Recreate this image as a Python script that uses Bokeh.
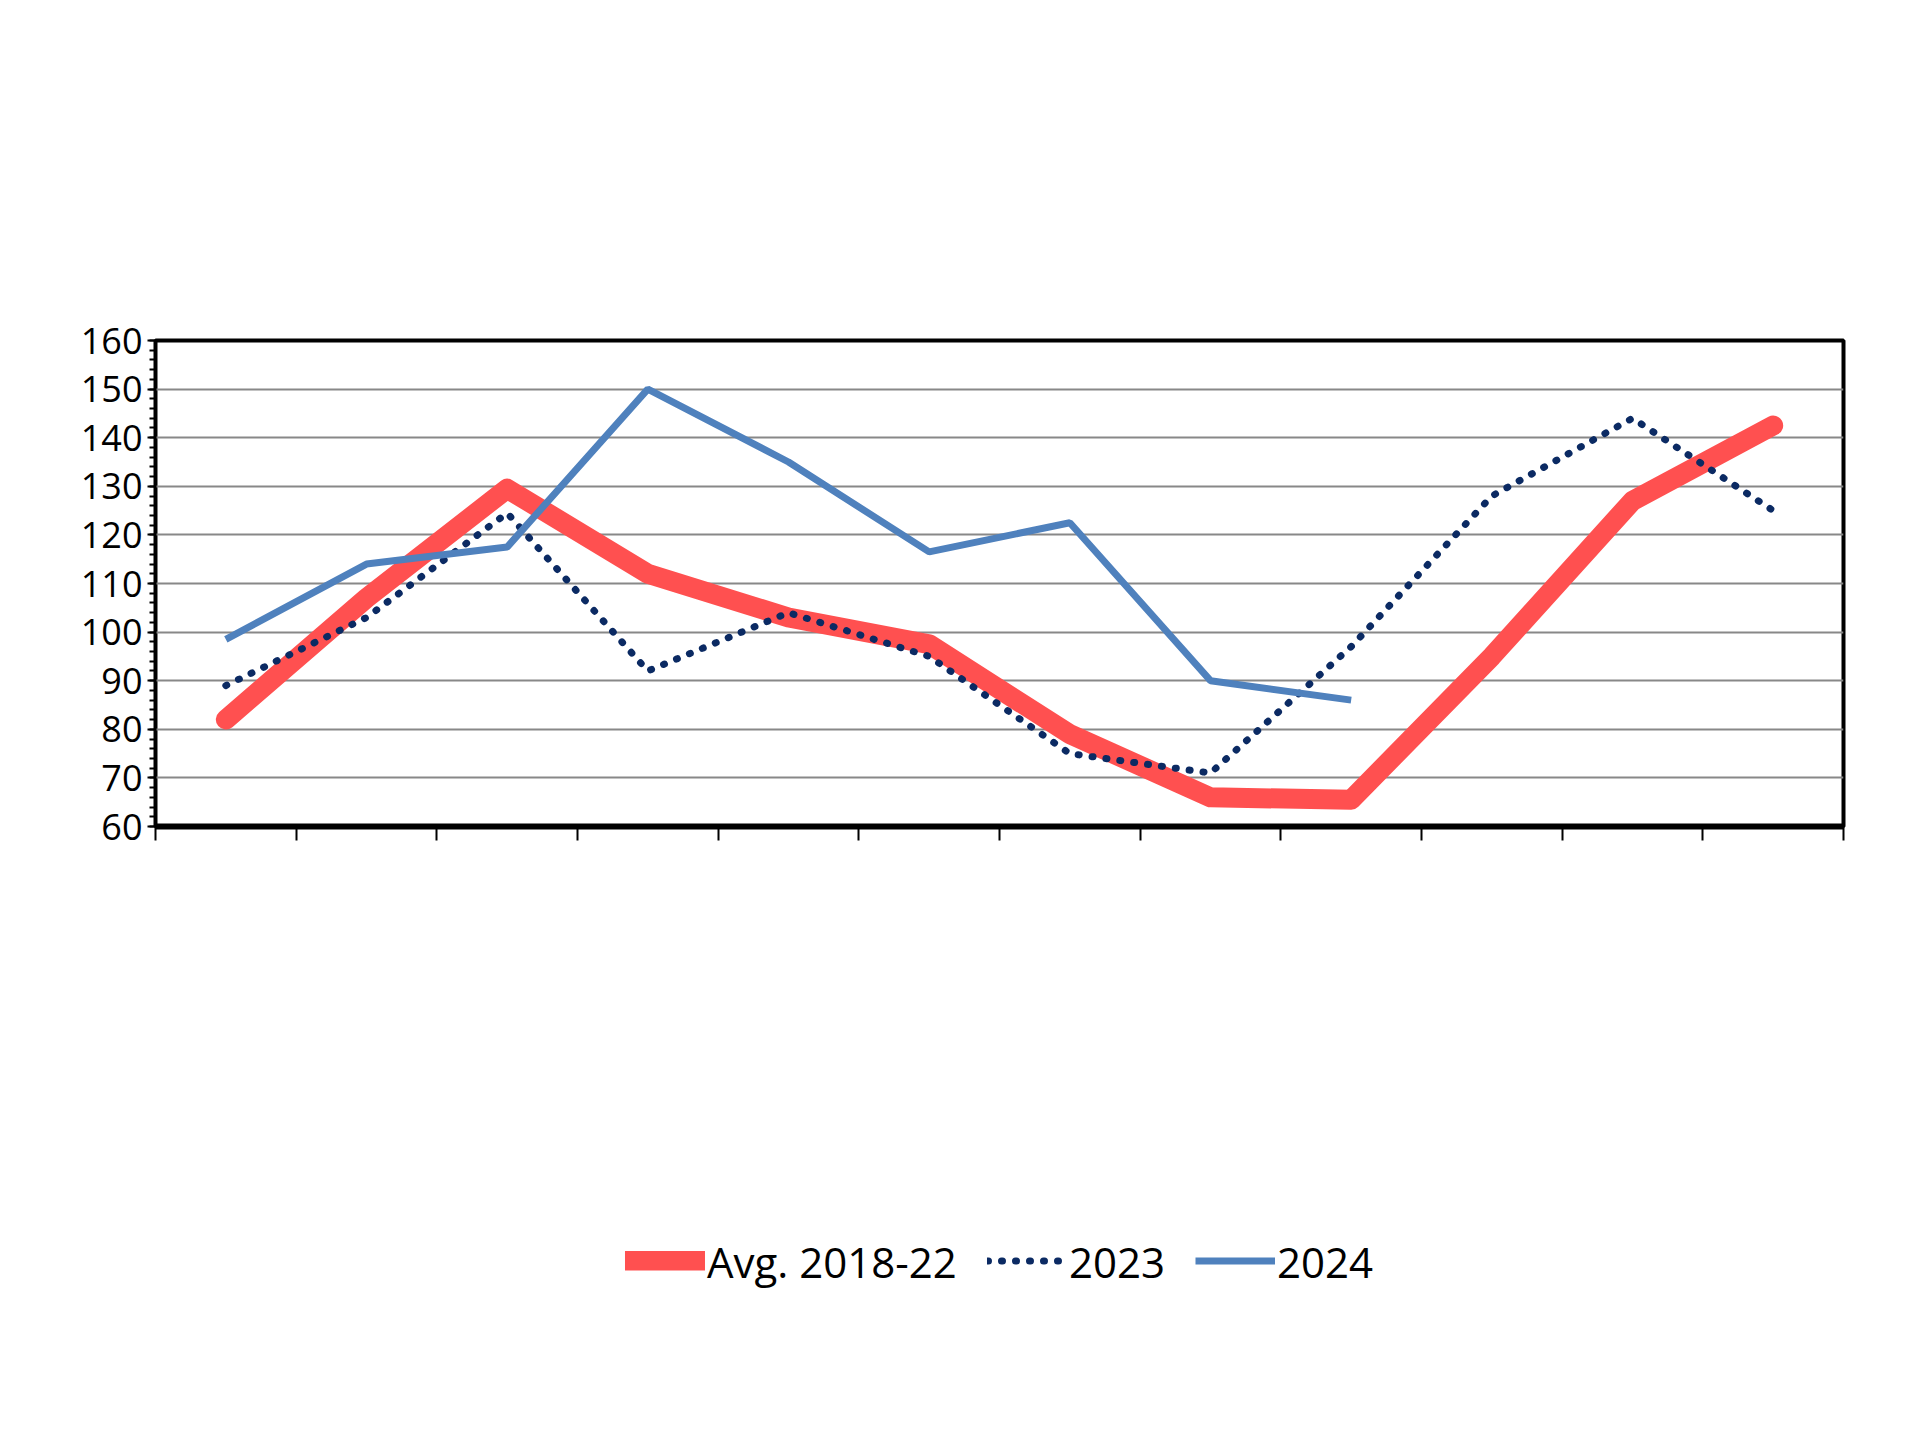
from bokeh.plotting import figure
from bokeh.models import Label, Legend, LegendItem, FixedTicker
from bokeh.embed import file_html
from bokeh.resources import INLINE

months = ["JAN","FEB","MAR","APR","MAY","JUN","JUL","AUG","SEP","OCT","NOV","DEC"]
avg_1822 = [82, 107, 129.5, 112, 103, 97.5, 79, 66, 65.5, 95, 127, 142.5]
y2023 = [89, 103, 124.5, 92, 104, 95, 75, 71, 97, 128, 144, 125]
y2024 = [98.5, 114, 117.5, 150, 135, 116.5, 122.5, 90, 86]
yticks = list(range(60, 161, 10))

W, H = 1900, 1420
L, R, T, B = 155, 57, 340, 307
FB = 1113  # frame bottom in canvas px
p = figure(width=W, height=H, x_range=(0, 12), y_range=(60, 160),
           output_backend="svg", toolbar_location=None,
           min_border_left=L, min_border_right=R, min_border_top=T, min_border_bottom=B)
p.outline_line_color = "black"; p.outline_line_width = 4
p.xgrid.grid_line_color = None
p.ygrid.grid_line_color = "#888888"; p.ygrid.grid_line_width = 2
p.ygrid.ticker = FixedTicker(ticks=yticks)

p.yaxis.ticker = FixedTicker(ticks=yticks, minor_ticks=list(range(60, 161, 2)))
p.yaxis.major_label_text_font = "Open Sans"
p.yaxis.major_label_text_font_size = "36px"
p.yaxis.major_label_text_color = "black"
p.yaxis.axis_line_width = 2
p.yaxis.major_tick_out = 8; p.yaxis.minor_tick_out = 6; p.yaxis.major_tick_in = 0; p.yaxis.minor_tick_in = 0
p.yaxis.major_tick_line_width = 2; p.yaxis.minor_tick_line_width = 2
p.xaxis.ticker = FixedTicker(ticks=list(range(0, 13)))
p.xaxis.major_label_text_font_size = "0px"
p.xaxis.axis_line_width = 6
p.xaxis.major_tick_out = 14; p.xaxis.major_tick_in = 0; p.xaxis.major_tick_line_width = 2
p.xaxis.minor_tick_line_color = None

xs = [i + 0.5 for i in range(12)]
r1 = p.line(xs, avg_1822, line_color="#FF5050", line_width=20, line_join="round", line_cap="round")
r2 = p.line(xs, y2023, line_color="#0B2A63", line_width=7, line_dash="1 13", line_cap="round")
r3 = p.line(xs[:len(y2024)], y2024, line_color="#4F81BD", line_width=7)

for i, m in enumerate(months):
    p.add_layout(Label(x=xs[i], y=FB - 1157, x_units="data", y_units="screen", text=m,
                       text_align="center", text_baseline="middle", text_color="black",
                       text_font="Open Sans", text_font_size="26px"))

def lab(x, y, t, size, style="normal", font="Liberation Sans", align="left"):
    p.add_layout(Label(x=x - L, y=FB - y, x_units="screen", y_units="screen", text=t,
                       text_align=align, text_baseline="middle", text_font=font, text_color="black",
                       text_font_size=size, text_font_style=style))

lab(970, 181, "US CATTLE IMPORTS FROM MEXICO", "52px", "bold", align="center")
lab(970, 246, "Monthly", "44px", font="Open Sans", align="center")
lab(75, 284, "Thou. Head", "40px", font="Open Sans")
lab(145, 1343, "Data Source:  USDA-ERS & USDA-FAS", "34px", "bold", font="Open Sans")
lab(175, 1405, "Livestock Marketing Information Center", "30px", "bold", font="Open Sans")

leg = Legend(items=[LegendItem(label="Avg. 2018-22", renderers=[r1]),
                    LegendItem(label="2023", renderers=[r2]),
                    LegendItem(label="2024", renderers=[r3])],
             orientation="horizontal", location="center", margin=40, padding=0,
             label_text_font="Open Sans", label_text_font_size="42px", label_text_color="black",
             glyph_width=80, label_standoff=2, spacing=30,
             border_line_color=None, background_fill_alpha=0)
p.add_layout(leg, "below")

open("out.html", "w").write(file_html(p, INLINE))
